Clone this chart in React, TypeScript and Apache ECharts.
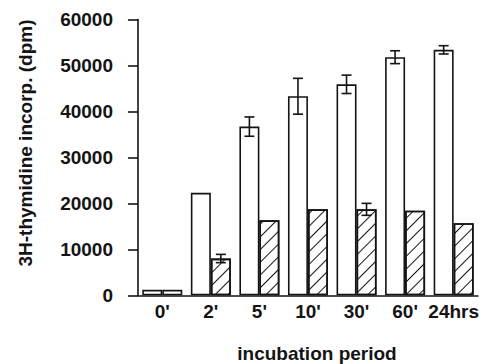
import React, { useEffect, useRef } from "react";
import * as echarts from "echarts";

const categories = ["0'", "2'", "5'", "10'", "30'", "60'", "24hrs"];
const openValues = [1200, 22300, 36700, 43300, 45900, 51800, 53400];
const hatchedValues = [1200, 8000, 16300, 18700, 18700, 18400, 15700];
const openErrors: (number | null)[] = [null, null, 2100, 3900, 2000, 1400, 900];
const hatchedErrors: (number | null)[] = [null, 900, null, null, 1300, null, null];
const yTicks = { min: 0, max: 60000, interval: 10000 };

const BAR_W = 20;
const FONT = "Liberation Sans, Arial, Helvetica, sans-serif";
const INK = "#141414";

function errData(vals: number[], errs: (number | null)[]) {
  const out: number[][] = [];
  errs.forEach((e, i) => {
    if (e != null) out.push([i, vals[i], e]);
  });
  return out;
}

function makeErrRender(offset: number) {
  return (params: any, api: any) => {
    const idx = api.value(0);
    const val = api.value(1);
    const err = api.value(2);
    const top = api.coord([idx, val + err]);
    const bot = api.coord([idx, val - err]);
    const x = top[0] + offset;
    const hw = 5;
    const st = { stroke: INK, lineWidth: 1.6 };
    return {
      type: "group",
      children: [
        { type: "line", shape: { x1: x, y1: top[1], x2: x, y2: bot[1] }, style: st },
        { type: "line", shape: { x1: x - hw, y1: top[1], x2: x + hw, y2: top[1] }, style: st },
        { type: "line", shape: { x1: x - hw, y1: bot[1], x2: x + hw, y2: bot[1] }, style: st },
      ],
    };
  };
}

export default function App() {
  const ref = useRef<HTMLDivElement>(null);
  useEffect(() => {
    if (!ref.current) return;
    const chart = echarts.init(ref.current, undefined, { renderer: "svg" });
    const hatchDecal = {
      symbol: "rect",
      symbolSize: 1,
      color: INK,
      backgroundColor: "#fff",
      dashArrayX: [1, 0],
      dashArrayY: [1, 8],
      rotation: -Math.PI / 4,
    };
    chart.setOption({
      animation: false,
      backgroundColor: "#fff",
      textStyle: { fontFamily: FONT },
      grid: { left: 138, right: 4, top: 19.5, bottom: 68.7 },
      xAxis: {
        type: "category",
        data: categories,
        axisLine: { lineStyle: { color: INK, width: 1.6 } },
        axisTick: { alignWithLabel: true, length: 7, lineStyle: { color: INK, width: 1.6 } },
        axisLabel: {
          color: INK,
          fontSize: 19,
          fontWeight: "bold",
          fontFamily: FONT,
          margin: 7,
          interval: 0,
        },
      },
      yAxis: {
        type: "value",
        min: yTicks.min,
        max: yTicks.max,
        interval: yTicks.interval,
        axisLine: { show: true, lineStyle: { color: INK, width: 1.6 } },
        axisTick: { show: true, length: 10, lineStyle: { color: INK, width: 1.6 } },
        axisLabel: {
          color: INK,
          fontSize: 19,
          fontWeight: "bold",
          fontFamily: FONT,
          margin: 25,
          formatter: (v: number) => String(v),
        },
        splitLine: { show: false },
      },
      graphic: [
        {
          type: "text",
          x: 25,
          y: 143,
          rotation: Math.PI / 2,
          style: {
            text: "3H-thymidine incorp. (dpm)",
            fontSize: 19,
            fontWeight: "bold",
            fontFamily: FONT,
            fill: INK,
            align: "center",
            verticalAlign: "middle",
          },
        },
        {
          type: "text",
          x: 317,
          y: 353,
          style: {
            text: "incubation period",
            fontSize: 19,
            fontWeight: "bold",
            fontFamily: FONT,
            fill: INK,
            align: "center",
            verticalAlign: "middle",
          },
        },
      ],
      series: [
        {
          type: "bar",
          data: openValues,
          barWidth: BAR_W,
          barGap: "0%",
          itemStyle: { color: "#fff", borderColor: INK, borderWidth: 1.6 },
        },
        {
          type: "bar",
          data: hatchedValues.map((v, i) => (i === 0 ? { value: v, itemStyle: { decal: "none" } } : v)),
          barWidth: BAR_W,
          barGap: "0%",
          itemStyle: { color: "#fff", borderColor: INK, borderWidth: 1.6, decal: hatchDecal },
        },
        {
          type: "custom",
          renderItem: makeErrRender(-BAR_W / 2),
          data: errData(openValues, openErrors),
          z: 5,
        },
        {
          type: "custom",
          renderItem: makeErrRender(BAR_W / 2),
          data: errData(hatchedValues, hatchedErrors),
          z: 5,
        },
      ],
    });
    return () => chart.dispose();
  }, []);
  return (
    <div
      ref={ref}
      style={{ position: "fixed", left: 0, top: 0, width: 482, height: 364, background: "#fff" }}
    />
  );
}
